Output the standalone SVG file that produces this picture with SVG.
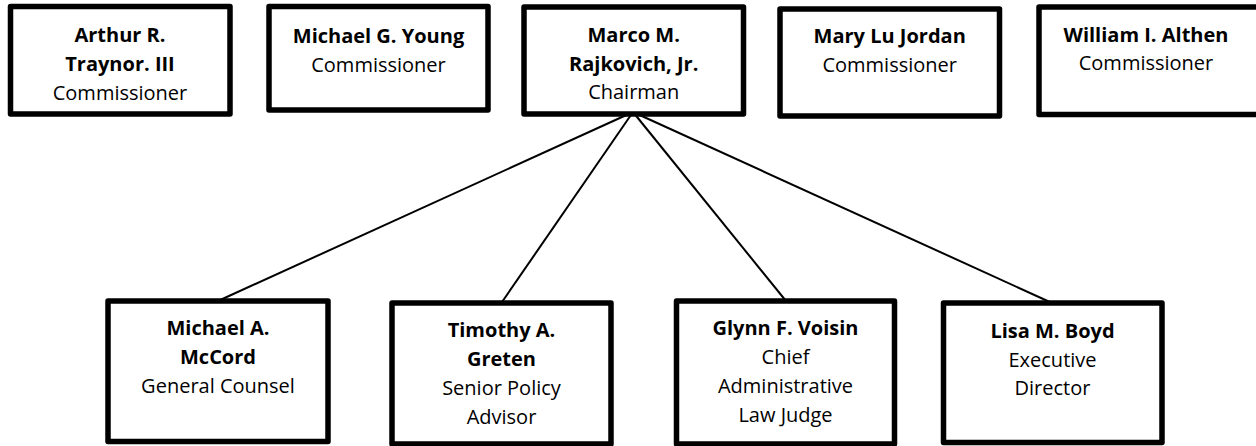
<svg xmlns="http://www.w3.org/2000/svg" width="1256" height="446" viewBox="0 0 1256 446">
<style>
.box{fill:#fff;stroke:#000;stroke-width:5.5;stroke-linejoin:round}
text{font-family:"Open Sans","Liberation Sans",sans-serif;font-size:20px;fill:#000;text-anchor:middle}
.b{font-weight:bold}
.conn line{stroke:#000;stroke-width:2}
</style>
<rect width="1256" height="446" fill="#fff"/>
<g class="conn">
<line x1="633" y1="112" x2="218" y2="301"/>
<line x1="633" y1="112" x2="502" y2="302"/>
<line x1="633" y1="112" x2="786" y2="301"/>
<line x1="633" y1="112" x2="1052" y2="303"/>
</g>
<g id="n-traynor"><rect class="box" x="10.5" y="6.5" width="219.5" height="107.5"/><text x="120" y="42" class="b">Arthur R.</text><text x="120" y="71" class="b">Traynor. III</text><text x="120" y="100">Commissioner</text></g>
<g id="n-young"><rect class="box" x="269" y="6.5" width="219" height="103.5"/><text x="378.5" y="43" class="b">Michael G. Young</text><text x="378.5" y="72">Commissioner</text></g>
<g id="n-rajkovich"><rect class="box" x="524" y="7" width="219.5" height="107"/><text x="633.7" y="42" class="b">Marco M.</text><text x="633.7" y="71" class="b">Rajkovich, Jr.</text><text x="633.7" y="99">Chairman</text></g>
<g id="n-jordan"><rect class="box" x="780" y="9" width="219.5" height="107"/><text x="889.7" y="43" class="b">Mary Lu Jordan</text><text x="889.7" y="72">Commissioner</text></g>
<g id="n-althen"><rect class="box" x="1039" y="7" width="224" height="107.5"/><text x="1146" y="42" class="b">William I. Althen</text><text x="1146" y="70">Commissioner</text></g>
<g id="n-mccord"><rect class="box" x="108" y="301" width="220" height="140.5"/><text x="218" y="335" class="b">Michael A.</text><text x="218" y="364" class="b">McCord</text><text x="218" y="393">General Counsel</text></g>
<g id="n-greten"><rect class="box" x="392" y="303" width="219" height="141"/><text x="501.5" y="337" class="b">Timothy A.</text><text x="501.5" y="366" class="b">Greten</text><text x="501.5" y="395">Senior Policy</text><text x="501.5" y="424">Advisor</text></g>
<g id="n-voisin"><rect class="box" x="676.5" y="301" width="218" height="143"/><text x="785.5" y="335" class="b">Glynn F. Voisin</text><text x="785.5" y="364">Chief</text><text x="785.5" y="393">Administrative</text><text x="785.5" y="422">Law Judge</text></g>
<g id="n-boyd"><rect class="box" x="943.5" y="303" width="218.5" height="139.5"/><text x="1052.5" y="338" class="b">Lisa M. Boyd</text><text x="1052.5" y="367">Executive</text><text x="1052.5" y="395">Director</text></g>
</svg>
